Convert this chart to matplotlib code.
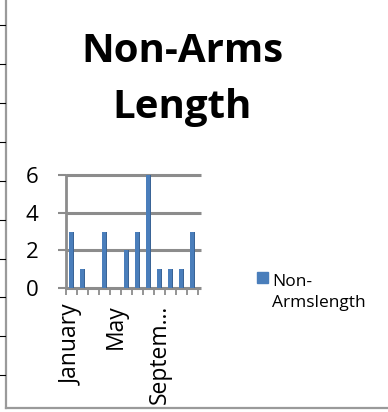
import matplotlib
matplotlib.use("Agg")
import matplotlib.pyplot as plt
from matplotlib.lines import Line2D
from matplotlib.patches import Rectangle

months = ["January", "February", "March", "April", "May", "June", "July",
          "August", "September", "October", "November", "December"]
counts = [3, 1, 0, 3, 0, 2, 3, 6, 1, 1, 1, 3]
y_ticks = [0, 2, 4, 6]
shown_labels = {0: "January", 4: "May", 8: "Septem…"}
series_name = "Non-\nArmslength"
title = "Non-Arms\nLength"

plt.rcParams["font.family"] = ["Open Sans", "DejaVu Sans"]

W, H = 388, 412
fig = plt.figure(figsize=(W / 100, H / 100), dpi=100)

BAR = "#4a7ebb"
BAR_SIDE = "#3a6496"
GRID = "#8c8c8c"

ax = fig.add_axes([66 / W, 1 - 288 / H, 132 / W, 113 / H])
x = list(range(len(months)))
ax.bar(x, counts, width=0.42, color=BAR, zorder=3)
# darker right face for the column depth
ax.bar([i + 0.16 for i in x], counts, width=0.1, color=BAR_SIDE, zorder=3.5)

ax.set_xlim(-0.5, len(months) - 0.5)
ax.set_ylim(0, 6)
for v in y_ticks:
    ax.hlines(v, -0.5, len(months) - 0.2, color=GRID, lw=2.2, zorder=2,
              clip_on=False)
for s in ["top", "right", "bottom"]:
    ax.spines[s].set_visible(False)
ax.spines["left"].set_color(GRID)
ax.spines["left"].set_linewidth(2)

ax.set_yticks(y_ticks)
ax.set_yticklabels([str(v) for v in y_ticks], fontsize=16)
ax.tick_params(axis="y", length=6, width=1.5, color=GRID, pad=14)

ax.set_xticks([i - 0.5 for i in range(len(months) + 1)])
ax.set_xticklabels([])
ax.tick_params(axis="x", which="major", length=5, width=1.3, color=GRID,
               direction="out")
ax.set_xticks(list(shown_labels.keys()), minor=True)
ax.set_xticklabels(list(shown_labels.values()), minor=True, rotation=90,
                   fontsize=16.5, va="top", ha="center")
ax.tick_params(axis="x", which="minor", length=0, pad=12)

fig.text(182 / W, 1 - 118 / H, title, ha="center", va="baseline",
         fontsize=29, fontweight="bold", linespacing=1.55,
         multialignment="center")

# legend
fig.patches.append(Rectangle((257 / W, 1 - 283 / H), 11 / W, 11 / H,
                             transform=fig.transFigure, color=BAR))
fig.text(272 / W, 1 - 307 / H, series_name, ha="left", va="baseline",
         fontsize=12.5, linespacing=1.4)

# chart frame on left and bottom
fig.add_artist(Line2D([5.5 / W, 5.5 / W], [1 - 408 / H, 1.0],
                      transform=fig.transFigure, color="#9a9a9a", lw=1.6))
fig.add_artist(Line2D([5.5 / W, 1.0], [1 - 408 / H, 1 - 408 / H],
                      transform=fig.transFigure, color="#9a9a9a", lw=1.6))
for yy in [25, 64, 103, 142, 181, 220, 259, 297, 336, 375]:
    fig.add_artist(Line2D([0, 5 / W], [1 - yy / H, 1 - yy / H],
                          transform=fig.transFigure, color="black", lw=0.8))

fig.savefig("out.png", dpi=100)
